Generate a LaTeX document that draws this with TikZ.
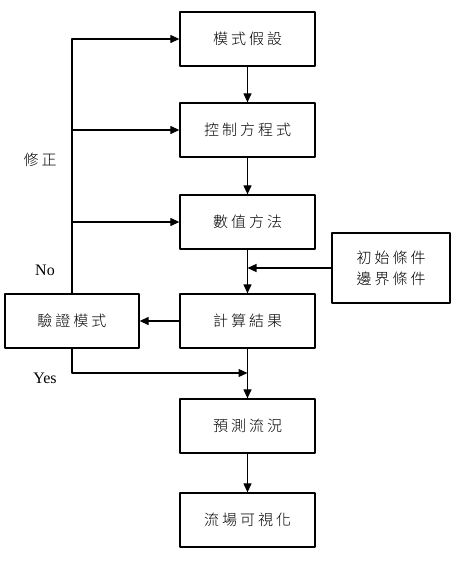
\documentclass[tikz,border=0pt]{standalone}
\usepackage{fontspec}
\setmainfont{Liberation Serif}
\newfontfamily\cjk[LetterSpace=20]{Noto Sans CJK TC Light}
\usetikzlibrary{arrows.meta}
\begin{document}
\begin{tikzpicture}[x=1pt, y=-1pt, line join=round, >={Triangle[length=9pt,width=8pt]},
    stepbox/.style={draw, line width=1.3pt, minimum width=135pt, minimum height=54pt, font=\cjk\fontsize{15}{17}\selectfont},
    link/.style={->, line width=1.2pt}]
    \useasboundingbox (0,0) rectangle (457,574);
    % main column
    \node[stepbox] (assume) at (247.5,39) {模式假設};
    \node[stepbox] (govern) at (247.5,130) {控制方程式};
    \node[stepbox] (numer)  at (247.5,222) {數值方法};
    \node[stepbox] (result) at (247.5,321) {計算結果};
    \node[stepbox] (predict) at (247.5,426) {預測流況};
    \node[stepbox] (visual) at (247.5,520) {流場可視化};
    % side boxes
    \node[stepbox, minimum width=134pt] (verify) at (72,321) {驗證模式};
    \node[stepbox, minimum width=118pt, minimum height=70pt, align=center] (cond) at (391,268) {初始條件\\[4pt]邊界條件};
    \coordinate (yes) at (72,373);
    \draw[link] (assume) -- (govern);
    \draw[link] (govern) -- (numer);
    \draw[link] (numer) -- (result);
    \draw[link] (result) -- (predict);
    \draw[link] (predict) -- (visual);
    \draw[link] (cond.west) -- (cond.west -| result.north);
    \draw[link] (result.west) -- (verify.east);
    % correction loop
    \draw[link] (verify.north) -- (verify.north |- assume.west) -- (assume.west);
    \draw[link] (verify.north |- govern.west) -- (govern.west);
    \draw[link] (verify.north |- numer.west) -- (numer.west);
    \draw[link] (verify.south) -- (yes) -- (yes -| result.south);
    % labels
    \node[font=\cjk\fontsize{15}{17}\selectfont] (fix) at (40,160) {修正};
    \node[font=\fontsize{16}{18}\selectfont] (no) at (45,270) {No};
    \node[font=\fontsize{16}{18}\selectfont] (yeslbl) at (45,378) {Yes};
\end{tikzpicture}
\end{document}
